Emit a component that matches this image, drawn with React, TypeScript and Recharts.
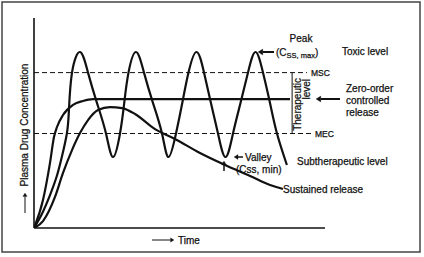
import { ComposedChart, Line, XAxis, YAxis, ReferenceLine } from "recharts";

// time runs 0..100 along the axis, concentration 0..100 up the axis
const oscTime = [0, 2.7, 5.5, 7.9, 9.6, 11.3, 12.0, 13.06, 15.81, 18.56, 21.65, 24.74, 27.15, 29.55, 31.0, 32.47, 35.05, 37.8, 40.9, 43.99, 46.22, 48.8, 50.95, 53.09, 55.84, 58.42, 60.8, 63.23, 65.81, 68.38, 70.96, 73.54, 76.12, 78.69, 81.1, 83.5, 86.9];
const oscConc = [0, 6.7, 15.7, 25, 34, 45, 56, 74, 83.8, 74, 59.5, 45, 33.8, 45, 59.5, 74, 83.8, 74, 59.5, 45, 33.8, 45, 59.5, 74, 83.8, 74, 59.5, 45, 33.8, 45, 59.5, 74, 83.8, 74, 59.5, 45, 30];

const zeroTime = [0, 3.09, 5.5, 6.87, 7.9, 9.97, 13.4, 16.84, 20.27, 87.97];
const zeroConc = [0, 13.3, 31.0, 43.3, 48.1, 53.8, 58.6, 60.5, 61.4, 61.4];

const susTime = [0, 3.09, 7.22, 9.97, 13.06, 15.81, 18.56, 21.99, 26.12, 30.24, 34.71, 41.58, 48.45, 57.04, 65.64, 74.23, 81.1, 85.57];
const susConc = [0, 3.3, 14.8, 26.2, 37.1, 45.2, 51.4, 56.2, 57.6, 57.1, 54.3, 47.1, 42.4, 35.7, 30.0, 24.8, 20.5, 18.6];

const MSC = 74;
const MEC = 45;
const bracketTime = 88.7;

const toRows = (ts: number[], cs: number[]) => ts.map((t, i) => ({ t, c: cs[i] }));

const ink = "#111";
const font = "'Liberation Sans', Arial, sans-serif";

const Arrow = ({ x1, y1, x2, y2, w = 1.5, head = 4 }: { x1: number; y1: number; x2: number; y2: number; w?: number; head?: number }) => {
  const a = Math.atan2(y2 - y1, x2 - x1);
  const bx = x2 - head * 1.6 * Math.cos(a);
  const by = y2 - head * 1.6 * Math.sin(a);
  const px = Math.sin(a) * head;
  const py = -Math.cos(a) * head;
  return (
    <g>
      <line x1={x1} y1={y1} x2={bx} y2={by} stroke={ink} strokeWidth={w} />
      <polygon points={`${x2},${y2} ${bx + px},${by + py} ${bx - px},${by - py}`} fill={ink} />
    </g>
  );
};

export default function App() {
  const curve = { dataKey: "c", stroke: ink, strokeWidth: 2.2, dot: false, isAnimationActive: false };
  return (
    <div style={{ position: "absolute", left: 0, top: 0, width: 424, height: 257, background: "#fff" }}>
      <ComposedChart width={424} height={257} margin={{ top: 18, right: 99, bottom: 29, left: 34 }}>
        <XAxis type="number" dataKey="t" domain={[0, 100]} hide allowDataOverflow />
        <YAxis type="number" domain={[0, 100]} hide allowDataOverflow />
        {/* axes */}
        <ReferenceLine segment={[{ x: 0, y: 0 }, { x: 0, y: 100 }]} stroke={ink} strokeWidth={1.6} />
        <ReferenceLine segment={[{ x: 0, y: 0 }, { x: 100, y: 0 }]} stroke={ink} strokeWidth={1.6} />
        <ReferenceLine segment={[{ x: 0, y: MSC }, { x: 93.8, y: MSC }]} stroke={ink} strokeWidth={1} strokeDasharray="5 3" />
        <ReferenceLine segment={[{ x: 0, y: MEC }, { x: 95.2, y: MEC }]} stroke={ink} strokeWidth={1} strokeDasharray="5 3" />
        <ReferenceLine segment={[{ x: bracketTime, y: MEC }, { x: bracketTime, y: MSC }]} stroke={ink} strokeWidth={1} />
        <Line {...curve} type="monotone" data={toRows(susTime, susConc)} />
        <Line {...curve} type="monotone" data={toRows(zeroTime, zeroConc)} />
        <Line {...curve} type="natural" data={toRows(oscTime, oscConc)} />
      </ComposedChart>
      <svg width={424} height={257} style={{ position: "absolute", left: 0, top: 0, pointerEvents: "none" }} fontFamily={font} fill={ink} stroke={ink} strokeWidth={0.25}>
        <rect x={2} y={2} width={418} height={250} fill="none" stroke="#444" strokeWidth={1.5} />

        <g transform="translate(28,125) rotate(-90)">
          <text x={0} y={0} textAnchor="middle" fontSize={10}>Plasma Drug Concentration</text>
        </g>
        <Arrow x1={25} y1={213} x2={25} y2={193} w={1} head={2.2} />

        <Arrow x1={152} y1={240} x2={174} y2={240} w={1} head={2.2} />
        <text x={178} y={243.5} fontSize={10}>Time</text>

        <text x={301} y={42} textAnchor="middle" fontSize={10}>Peak</text>
        <text x={276} y={55.5} fontSize={10}>
          (C<tspan fontSize={7.5} dy={2}>SS, max</tspan><tspan dy={-2}>)</tspan>
        </text>
        <Arrow x1={274} y1={52} x2={258} y2={52} w={2} head={3} />
        <text x={342} y={54.5} fontSize={10}>Toxic level</text>

        <text x={311} y={76} fontSize={8.5}>MSC</text>
        <text x={315} y={136.5} fontSize={8.5}>MEC</text>

        <g transform="translate(301,78) rotate(-90)">
          <text x={0} y={0} textAnchor="end" fontSize={10}>Therapeutic</text>
        </g>
        <g transform="translate(310,79) rotate(-90)">
          <text x={0} y={0} textAnchor="end" fontSize={10}>level</text>
        </g>

        <Arrow x1={340} y1={99} x2={316} y2={99} w={2} head={3} />
        <text x={346} y={91.5} fontSize={10}>Zero-order</text>
        <text x={346} y={103.5} fontSize={10}>controlled</text>
        <text x={346} y={115.5} fontSize={10}>release</text>

        <Arrow x1={243} y1={157} x2={234} y2={157} w={1.5} head={2.5} />
        <text x={245} y={160.5} fontSize={10}>Valley</text>
        <text x={236} y={172.5} fontSize={10}>(Css, min)</text>
        <Arrow x1={224} y1={171} x2={224} y2={161} w={1.5} head={2.5} />

        <text x={297} y={164.5} fontSize={10}>Subtherapeutic level</text>
        <text x={283} y={192.5} fontSize={10}>Sustained release</text>
      </svg>
    </div>
  );
}
